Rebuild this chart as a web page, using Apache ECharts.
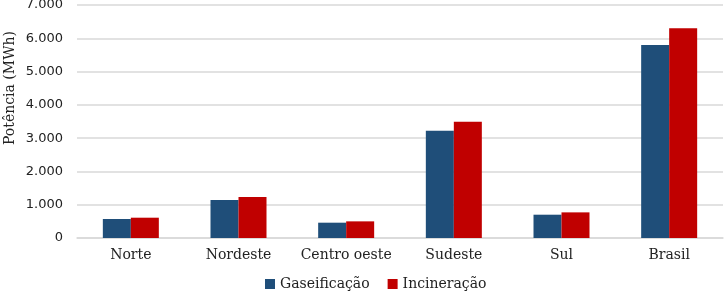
<!DOCTYPE html>
<html>
<head>
<meta charset="utf-8">
<script src="https://cdn.jsdelivr.net/npm/echarts@6/dist/echarts.min.js"></script>
<style>
  html, body { margin: 0; padding: 0; background: #fff; }
  #main { width: 724px; height: 292px; }
</style>
</head>
<body>
<div id="main"></div>
<script>
// regiões
var regioes = ['Norte', 'Nordeste', 'Centro oeste', 'Sudeste', 'Sul', 'Brasil'];
// potência (MWh)
var gaseificacao = [570, 1140, 460, 3220, 700, 5800];
var incineracao = [610, 1230, 500, 3490, 770, 6300];

var chart = echarts.init(document.getElementById('main'));

function fmt(v) {
  return String(v).replace(/\B(?=(\d{3})+(?!\d))/g, '.');
}

var option = {
  animation: false,
  grid: { left: 77, right: 1, top: 5, bottom: 54, containLabel: false, outerBoundsMode: 'none' },
  // título do eixo y (deslocado para cima, como no original)
  graphic: [{
    type: 'text',
    x: 10,
    y: 88,
    rotation: Math.PI / 2,
    style: {
      text: 'Potência (MWh)',
      font: '14px "DejaVu Serif"',
      fill: '#222',
      align: 'center',
      verticalAlign: 'middle'
    }
  }],
  legend: {
    top: 272,
    left: 260,
    itemWidth: 10,
    itemHeight: 10,
    itemGap: 18,
    icon: 'rect',
    textStyle: { fontFamily: 'DejaVu Serif', fontSize: 14, color: '#222' },
    data: ['Gaseificação', 'Incineração']
  },
  xAxis: {
    type: 'category',
    data: regioes,
    axisLine: { lineStyle: { color: '#d9d9d9', width: 1.5 } },
    axisTick: { show: false },
    axisLabel: { interval: 0, fontFamily: 'DejaVu Serif', fontSize: 14, color: '#222', margin: 10 }
  },
  yAxis: {
    type: 'value',
    min: 0,
    max: 7000,
    interval: 1000,
    axisLine: { show: false },
    axisTick: { show: false },
    splitLine: { lineStyle: { color: '#d9d9d9', width: 1.5 } },
    axisLabel: {
      fontFamily: 'DejaVu Sans', fontSize: 13, color: '#222', margin: 14,
      formatter: fmt
    }
  },
  series: [
    {
      name: 'Gaseificação',
      type: 'bar',
      data: gaseificacao,
      barGap: '0%',
      barWidth: 28,
      itemStyle: { color: '#1f4e79' }
    },
    {
      name: 'Incineração',
      type: 'bar',
      data: incineracao,
      barWidth: 28,
      itemStyle: { color: '#c00000' }
    }
  ]
};
chart.setOption(option);
</script>
</body>
</html>
